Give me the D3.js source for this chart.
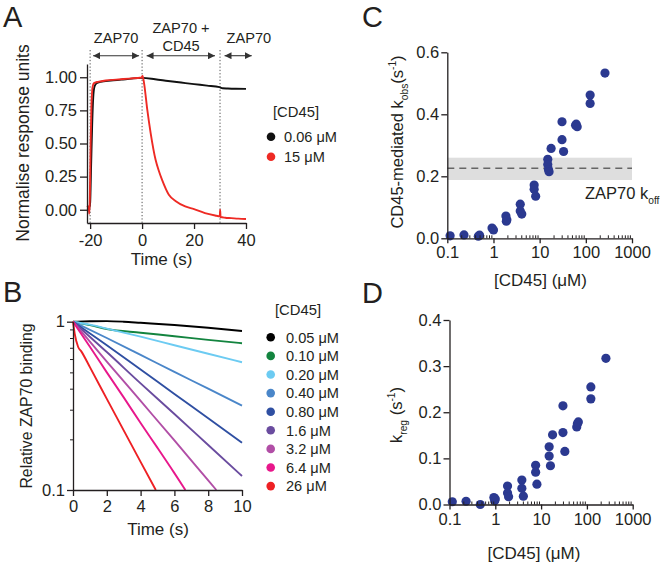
<!DOCTYPE html>
<html><head><meta charset="utf-8">
<script src="https://cdn.jsdelivr.net/npm/d3@7"></script>
<style>body{margin:0;background:#fff}</style>
</head><body>
<script>
// ---------- DATA ----------
// Panel A: normalised response vs time
const aBlackT = [-21.2,-20.4,-20.0,-19.6,-19.2,-18.8,-18.3,-17.5,-16,-12,-8,-4,0,5,10,15,20,25,29.8,30.2,31,33,36,40];
const aBlackV = [0.01,0.01,0.05,0.35,0.65,0.85,0.93,0.955,0.965,0.975,0.982,0.99,0.995,0.985,0.972,0.96,0.948,0.937,0.925,0.922,0.917,0.915,0.913,0.912];
const aRedT = [-21.2,-20.6,-20.3,-20.1,-19.8,-19.5,-19.2,-18.9,-18.5,-18,-17,-14,-10,-5,-0.2,0.2,0.76,2.0,3.3,5.2,6.5,7.7,10.3,13,16.6,20,24.2,28.6,29.9,30.05,30.2,32,34.3,37,40];
const aRedV = [0.02,0.025,-0.03,0.1,0.5,0.78,0.9,0.94,0.955,0.96,0.965,0.975,0.982,0.99,0.998,1.01,0.956,0.755,0.579,0.377,0.29,0.225,0.113,0.065,0.025,0.005,-0.025,-0.045,-0.05,0.0,-0.055,-0.06,-0.063,-0.067,-0.07];
const aLegend = ["0.06 μM","15 μM"];
const aColors = ["#111111","#ee2a24"];
const aXTicks = [-20,0,20,40];
const aYTicks = [0,0.25,0.5,0.75,1];
const aPhases = [
  {lines:["ZAP70"], from:-20, to:0},
  {lines:["ZAP70 +","CD45"], from:0, to:30},
  {lines:["ZAP70"], from:30, to:42}
];

// Panel B: relative ZAP70 binding (log) vs time
const bLabels = ["0.05 μM","0.10 μM","0.20 μM","0.40 μM","0.80 μM","1.6 μM","3.2 μM","6.4 μM","26 μM"];
const bColors = ["#000000","#13843f","#6ccbf2","#4a86c9","#2f4fa2","#6a4c9f","#b14ea6","#e8178b","#ee2024"];
const bTimes = [
  [0,1,2,3,4,6,8,10],
  [0,0.5,1,2,4,6,8,10],
  [0,1,2,4,6,8,10],
  [0,2,4,6,8,10],
  [0,2,4,6,8,10],
  [0,2,4,6,8,10],
  [0,2,4,6,8,8.48],
  [0,1,2,3,4,5,6,6.65],
  [0,0.1,0.3,0.5,1,2,3,4,4.9]
];
const bValues = [
  [1,1.006,1.008,1.0,0.985,0.955,0.92,0.88],
  [1,0.975,0.955,0.905,0.86,0.82,0.78,0.745],
  [1,0.96,0.91,0.815,0.725,0.645,0.574],
  [1,0.80,0.635,0.503,0.40,0.317],
  [1,0.725,0.52,0.372,0.267,0.191],
  [1,0.66,0.43,0.283,0.185,0.121],
  [1,0.58,0.338,0.197,0.114,0.1],
  [1,0.71,0.5,0.355,0.25,0.178,0.126,0.1],
  [1,0.85,0.71,0.664,0.537,0.348,0.226,0.147,0.1]
];
const bXTicks = [0,2,4,6,8,10];
const bYTicks = [0.1,1];

// Panel C: CD45-mediated k_obs vs [CD45]
const cX = [0.115,0.23,0.47,0.5,0.93,1.0,1.86,1.9,1.95,3.8,3.8,4.1,7.6,7.6,8.2,15,15,15.5,16,17.7,30.5,30.5,33,60,62,65,124,124,260];
const cY = [0.008,0.011,0.007,0.01,0.033,0.027,0.072,0.055,0.06,0.11,0.088,0.078,0.172,0.158,0.136,0.255,0.238,0.222,0.215,0.29,0.376,0.318,0.28,0.365,0.368,0.36,0.462,0.435,0.533];
const cKoff = 0.226, cKoffLow = 0.188, cKoffHigh = 0.26;
const cYTicks = [0,0.2,0.4,0.6];

// Panel D: k_reg vs [CD45]
const dX = [0.115,0.23,0.47,0.93,0.97,1.0,1.85,1.85,1.95,3.8,3.8,4.1,7.6,7.6,8.1,15,15,16,17.8,30,30,33,60,62,65,122,122,260];
const dY = [0.006,0.007,0.0,0.015,0.008,0.012,0.04,0.025,0.017,0.053,0.035,0.018,0.085,0.07,0.044,0.125,0.105,0.084,0.151,0.214,0.156,0.115,0.168,0.175,0.179,0.255,0.229,0.317];
const dYTicks = [0,0.1,0.2,0.3,0.4];

const logXTicks = [0.1,1,10,100,1000];

// ---------- DRAW ----------
const FONT = "'Liberation Sans', Arial, Helvetica, sans-serif";
const INK = "#231f20";
const DOT = "#2b3990";
const svg = d3.select("body").append("svg").attr("width",668).attr("height",563)
  .attr("font-family",FONT).attr("fill",INK);

function styleAxis(g, fs){
  g.attr("font-family",FONT);
  g.select(".domain").attr("stroke",INK).attr("stroke-width",1.3);
  g.selectAll(".tick line").attr("stroke",INK).attr("stroke-width",1.3);
  g.selectAll(".tick text").attr("fill",INK).attr("font-size",fs);
}
function rich(sel, parts, fs){
  let shift = 0;
  parts.forEach(p=>{
    let target=0, size=fs;
    if(p.s==="sub"){target=fs*0.3;size=fs*0.62;}
    if(p.s==="sup"){target=-fs*0.42;size=fs*0.62;}
    sel.append("tspan").text(p.t).attr("font-size",size).attr("dy",target-shift);
    shift=target;
  });
}
function vTitle(x,y,parts,fs){
  const t = svg.append("text").attr("transform",`translate(${x},${y}) rotate(-90)`)
    .attr("text-anchor","middle").attr("font-size",fs).attr("fill",INK);
  rich(t,parts,fs);
}
function hText(x,y,str,fs,anchor){
  return svg.append("text").attr("x",x).attr("y",y).attr("text-anchor",anchor||"middle")
    .attr("font-size",fs).attr("fill",INK).text(str);
}
function minorLog(){
  const m=[]; [0.1,1,10,100].forEach(d=>{for(let k=2;k<=9;k++) m.push(d*k);}); return m;
}

// Panel letters
hText(3,26.5,"A",29,"start");
hText(3,302,"B",29,"start");
hText(362,27,"C",29,"start");
hText(362,303,"D",29,"start");

// ===== Panel A =====
const xA = d3.scaleLinear().domain([-21.2,40]).range([87,246]);
const yA = d3.scaleLinear().domain([-0.1,1.1]).range([223,64]);

[-20,0,30].forEach(t=>{
  svg.append("line").attr("x1",xA(t)).attr("x2",xA(t)).attr("y1",50).attr("y2",223)
    .attr("stroke","#555").attr("stroke-width",1).attr("stroke-dasharray","1.3,2");
});
const defs = svg.append("defs");
defs.append("marker").attr("id","ah").attr("viewBox","0 0 10 10").attr("refX",10).attr("refY",5)
  .attr("markerWidth",7).attr("markerHeight",7).attr("markerUnits","userSpaceOnUse").attr("orient","auto-start-reverse")
  .append("path").attr("d","M0,0 L10,5 L0,10 Z").attr("fill","#333");
aPhases.forEach((p,i)=>{
  const x1 = xA(p.from)+ (i===0?3:4.5);
  const x2 = i===2 ? xA(p.to)+0.5 : xA(p.to)-(i===0?3:5);
  svg.append("line").attr("x1",x1).attr("x2",x2).attr("y1",55.7).attr("y2",55.7)
    .attr("stroke","#333").attr("stroke-width",1.1)
    .attr("marker-start","url(#ah)").attr("marker-end","url(#ah)");
  if(p.lines.length===1){
    if(i===2) hText(xA(p.from)+6.5,42.5,p.lines[0],14.6,"start");
    else hText((xA(p.from)+xA(p.to))/2,42.5,p.lines[0],14.6);
  } else {
    hText((xA(p.from)+xA(p.to))/2,33.3,p.lines[0],14.6);
    hText((xA(p.from)+xA(p.to))/2,50.8,p.lines[1],14.6);
  }
});

const lineA = d3.line().x(d=>xA(d[0])).y(d=>yA(d[1])).curve(d3.curveMonotoneX);
svg.append("path").datum(d3.zip(aBlackT,aBlackV)).attr("d",lineA)
  .attr("fill","none").attr("stroke",aColors[0]).attr("stroke-width",1.9);
svg.append("path").datum(d3.zip(aRedT,aRedV)).attr("d",lineA)
  .attr("fill","none").attr("stroke",aColors[1]).attr("stroke-width",1.9);

const gAx = svg.append("g").attr("transform","translate(0,223)")
  .call(d3.axisBottom(xA).tickValues(aXTicks).tickFormat(d=>String(d)).tickSize(6).tickPadding(5).tickSizeOuter(0));
styleAxis(gAx,16.5);
const gAy = svg.append("g").attr("transform","translate(87,0)")
  .call(d3.axisLeft(yA).tickValues(aYTicks).tickFormat(d3.format(".2f")).tickSize(7).tickPadding(3).tickSizeOuter(0));
styleAxis(gAy,16.5);

vTitle(29,143,[{t:"Normalise response units"}],17.5);
hText(161.5,265,"Time (s)",17);

hText(273,117,"[CD45]",14.8,"start");
aLegend.forEach((l,i)=>{
  const cy = 136.7 + i*20;
  svg.append("circle").attr("cx",271).attr("cy",cy).attr("r",4.3).attr("fill",aColors[i]);
  hText(284,cy+5.2,l,14.6,"start");
});

// ===== Panel B =====
const xB = d3.scaleLinear().domain([0,10]).range([73,242]);
const yB = d3.scaleLog().domain([0.1,1]).range([490,321.7]);
const lineB = d3.line().x(d=>xB(d[0])).y(d=>yB(d[1])).curve(d3.curveMonotoneX);
bTimes.forEach((ts,i)=>{
  svg.append("path").datum(d3.zip(ts,bValues[i])).attr("d",lineB)
    .attr("fill","none").attr("stroke",bColors[i]).attr("stroke-width",1.9);
});
const gBx = svg.append("g").attr("transform","translate(0,490)")
  .call(d3.axisBottom(xB).tickValues(bXTicks).tickFormat(d=>String(d)).tickSize(6).tickPadding(4).tickSizeOuter(0));
styleAxis(gBx,16.5);
const gBy = svg.append("g").attr("transform","translate(73,0)")
  .call(d3.axisLeft(yB).tickValues(bYTicks).tickFormat(d=>String(d)).tickSize(6).tickPadding(2).tickSizeOuter(0));
styleAxis(gBy,16.5);
const bMinor = [0.2,0.3,0.4,0.5,0.6,0.7,0.8,0.9];
const gByM = svg.append("g").attr("transform","translate(73,0)")
  .call(d3.axisLeft(yB).tickValues(bMinor).tickFormat("").tickSize(3).tickSizeOuter(0));
gByM.select(".domain").remove();
gByM.selectAll(".tick line").attr("stroke",INK).attr("stroke-width",1);

vTitle(32,406,[{t:"Relative ZAP70 binding"}],15.8);
hText(158,535,"Time (s)",17);

hText(275,315,"[CD45]",14.8,"start");
bLabels.forEach((l,i)=>{
  const cy = 337.3 + i*18.6;
  svg.append("circle").attr("cx",270.7).attr("cy",cy).attr("r",4.3).attr("fill",bColors[i]);
  hText(286,cy+5.2,l,14.6,"start");
});

// ===== Panel C =====
const xC = d3.scaleLog().domain([0.1,1000]).range([447.3,632]);
const yC = d3.scaleLinear().domain([0,0.6]).range([238.3,52.3]);
svg.append("rect").attr("x",xC(0.1)).attr("width",xC(1000)-xC(0.1))
  .attr("y",yC(cKoffHigh)).attr("height",yC(cKoffLow)-yC(cKoffHigh)).attr("fill","#dedede");
svg.append("line").attr("x1",xC(0.1)).attr("x2",xC(1000)).attr("y1",yC(cKoff)).attr("y2",yC(cKoff))
  .attr("stroke","#666").attr("stroke-width",1.4).attr("stroke-dasharray","7,5");
svg.append("g").selectAll("circle").data(d3.zip(cX,cY)).join("circle")
  .attr("cx",d=>xC(d[0])).attr("cy",d=>yC(d[1])).attr("r",4.6).attr("fill",DOT);
const gCx = svg.append("g").attr("transform","translate(0,238.3)")
  .call(d3.axisBottom(xC).tickValues(logXTicks).tickFormat(d3.format("~g")).tickSize(5).tickPadding(3).tickSizeOuter(0));
styleAxis(gCx,16.5);
const gCxm = svg.append("g").attr("transform","translate(0,238.3)")
  .call(d3.axisBottom(xC).tickValues(minorLog()).tickFormat("").tickSize(-3).tickSizeOuter(0));
gCxm.select(".domain").remove();
gCxm.selectAll(".tick line").attr("stroke",INK).attr("stroke-width",1);
const gCy = svg.append("g").attr("transform","translate(447.3,0)")
  .call(d3.axisLeft(yC).tickValues(cYTicks).tickFormat(d3.format(".1f")).tickSize(6).tickPadding(2).tickSizeOuter(0));
styleAxis(gCy,16.5);

vTitle(403,142,[{t:"CD45-mediated k"},{t:"obs",s:"sub"},{t:"(s"},{t:"-1",s:"sup"},{t:")"}],16.5);
hText(540.5,286,"[CD45] (μM)",17);
const koffT = svg.append("text").attr("x",585).attr("y",199).attr("font-size",16.5).attr("fill",INK);
rich(koffT,[{t:"ZAP70 k"},{t:"off",s:"sub"}],16.5);

// ===== Panel D =====
const xD = d3.scaleLog().domain([0.1,1000]).range([449.5,632.7]);
const yD = d3.scaleLinear().domain([0,0.4]).range([504.5,320]);
svg.append("g").selectAll("circle").data(d3.zip(dX,dY)).join("circle")
  .attr("cx",d=>xD(d[0])).attr("cy",d=>yD(d[1])).attr("r",4.6).attr("fill",DOT);
const gDx = svg.append("g").attr("transform","translate(0,504.5)")
  .call(d3.axisBottom(xD).tickValues(logXTicks).tickFormat(d3.format("~g")).tickSize(5).tickPadding(4).tickSizeOuter(0));
styleAxis(gDx,16.5);
const gDxm = svg.append("g").attr("transform","translate(0,504.5)")
  .call(d3.axisBottom(xD).tickValues(minorLog()).tickFormat("").tickSize(-3).tickSizeOuter(0));
gDxm.select(".domain").remove();
gDxm.selectAll(".tick line").attr("stroke",INK).attr("stroke-width",1);
const gDy = svg.append("g").attr("transform","translate(449.5,0)")
  .call(d3.axisLeft(yD).tickValues(dYTicks).tickFormat(d3.format(".1f")).tickSize(6).tickPadding(2).tickSizeOuter(0));
styleAxis(gDy,16.5);

vTitle(402,415,[{t:"k"},{t:"reg",s:"sub"},{t:" (s"},{t:"-1",s:"sup"},{t:")"}],16.5);
hText(534,559,"[CD45] (μM)",17);
</script></body></html>
